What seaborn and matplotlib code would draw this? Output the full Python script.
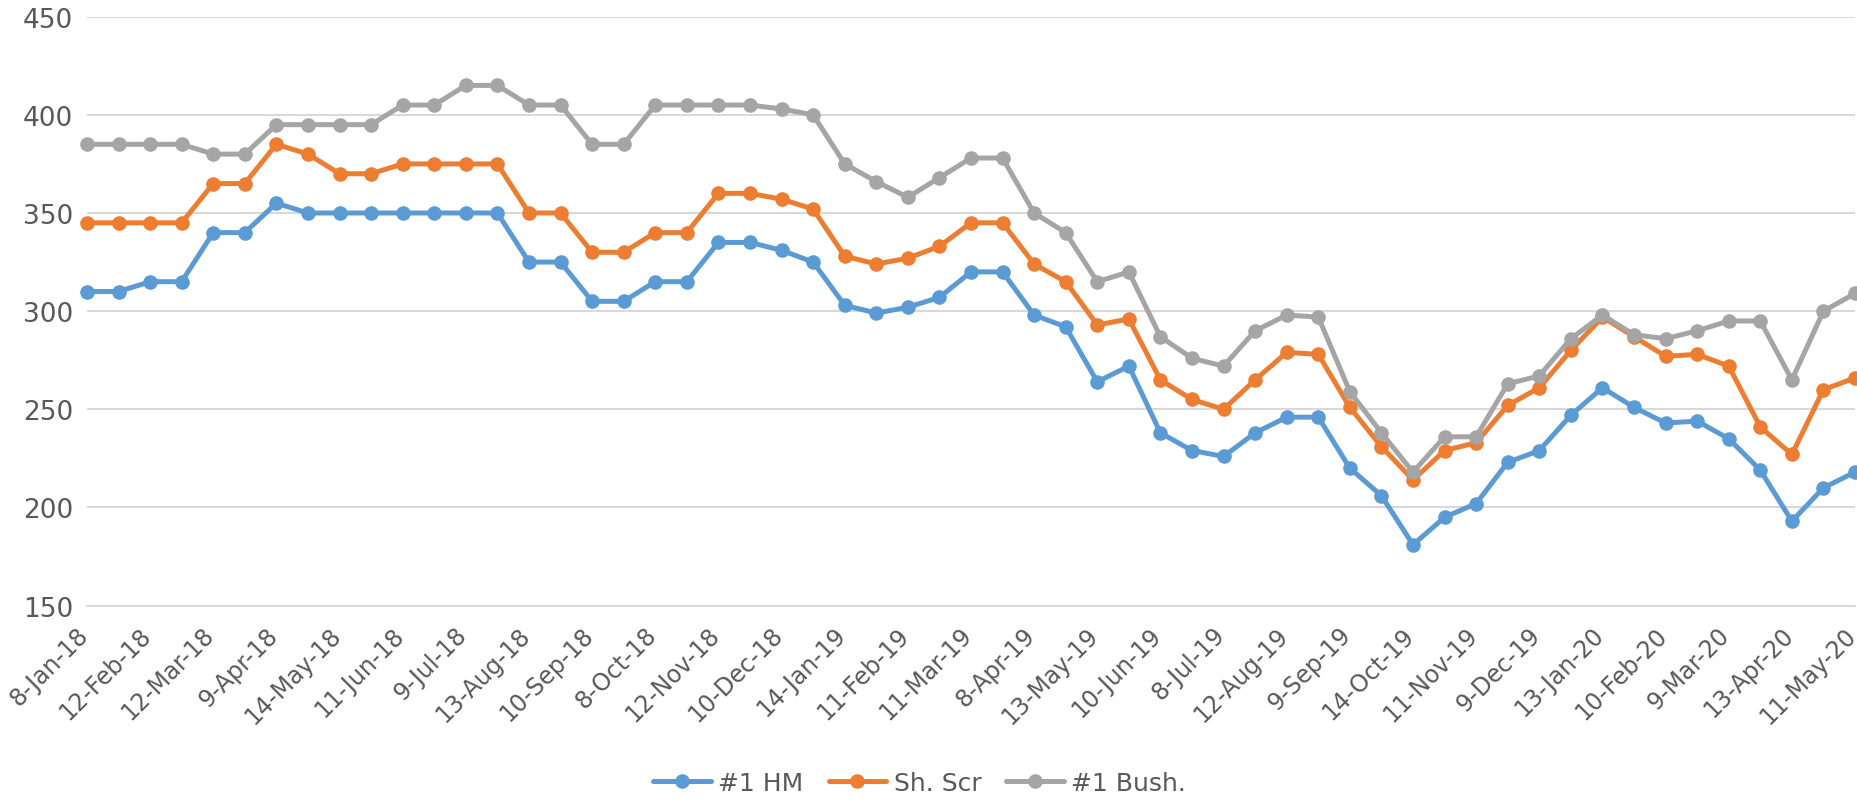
import matplotlib
matplotlib.use("Agg")
import matplotlib.pyplot as plt
import matplotlib.transforms as mtransforms
import numpy as np
import pandas as pd
import seaborn as sns

dates = ["8-Jan-18", "22-Jan-18", "12-Feb-18", "26-Feb-18", "12-Mar-18", "26-Mar-18",
         "9-Apr-18", "23-Apr-18", "14-May-18", "28-May-18", "11-Jun-18", "25-Jun-18",
         "9-Jul-18", "23-Jul-18", "13-Aug-18", "27-Aug-18", "10-Sep-18", "24-Sep-18",
         "8-Oct-18", "22-Oct-18", "12-Nov-18", "26-Nov-18", "10-Dec-18", "24-Dec-18",
         "14-Jan-19", "28-Jan-19", "11-Feb-19", "25-Feb-19", "11-Mar-19", "25-Mar-19",
         "8-Apr-19", "22-Apr-19", "13-May-19", "27-May-19", "10-Jun-19", "24-Jun-19",
         "8-Jul-19", "22-Jul-19", "12-Aug-19", "26-Aug-19", "9-Sep-19", "23-Sep-19",
         "14-Oct-19", "28-Oct-19", "11-Nov-19", "25-Nov-19", "9-Dec-19", "23-Dec-19",
         "13-Jan-20", "27-Jan-20", "10-Feb-20", "24-Feb-20", "9-Mar-20", "23-Mar-20",
         "13-Apr-20", "27-Apr-20", "11-May-20"]

hm = [310, 310, 315, 315, 340, 340, 355, 350, 350, 350,
      350, 350, 350, 350, 325, 325, 305, 305, 315, 315,
      335, 335, 331, 325, 303, 299, 302, 307, 320, 320,
      298, 292, 264, 272, 238, 229, 226, 238, 246, 246,
      220, 206, 181, 195, 202, 223, 229, 247, 261, 251,
      243, 244, 235, 219, 193, 210, 218]

scr = [345, 345, 345, 345, 365, 365, 385, 380, 370, 370,
       375, 375, 375, 375, 350, 350, 330, 330, 340, 340,
       360, 360, 357, 352, 328, 324, 327, 333, 345, 345,
       324, 315, 293, 296, 265, 255, 250, 265, 279, 278,
       251, 231, 214, 229, 233, 252, 261, 280, 297, 287,
       277, 278, 272, 241, 227, 260, 266]

bush = [385, 385, 385, 385, 380, 380, 395, 395, 395, 395,
        405, 405, 415, 415, 405, 405, 385, 385, 405, 405,
        405, 405, 403, 400, 375, 366, 358, 368, 378, 378,
        350, 340, 315, 320, 287, 276, 272, 290, 298, 297,
        259, 238, 218, 236, 236, 263, 267, 286, 298, 288,
        286, 290, 295, 295, 265, 300, 309]

series_names = ["#1 HM", "Sh. Scr", "#1 Bush."]
colors = ["#5B9BD5", "#ED7D31", "#A5A5A5"]
yticks = [150, 200, 250, 300, 350, 400, 450]

sns.set_style("white")
plt.rcParams["font.family"] = ["DejaVu Sans"]

pos = np.arange(len(dates))
df = pd.DataFrame({"pos": np.tile(pos, 3),
                   "value": hm + scr + bush,
                   "series": np.repeat(series_names, len(dates))})

fig = plt.figure(figsize=(18.58, 8.04), dpi=100)
ax = fig.add_axes([0.0468, 0.2455, 0.9516, 0.7325])

sns.lineplot(data=df, x="pos", y="value", hue="series", hue_order=series_names,
             palette=colors, marker="o", markersize=10.5, markeredgewidth=0,
             linewidth=3.6, ax=ax, legend=True)

text_c = "#595959"
grid_c = "#D9D9D9"
ax.set_xlim(0, len(dates) - 1)
ax.set_ylim(150, 450)
ax.set_yticks(yticks)
ax.set_yticklabels([str(v) for v in yticks], fontsize=19, color=text_c)
ax.set_xticks(pos)
ax.set_xticklabels([d if i % 2 == 0 else "" for i, d in enumerate(dates)],
                   rotation=45, ha="right", rotation_mode="anchor",
                   fontsize=17, color=text_c)
ax.tick_params(axis="x", length=8, width=1.5, color=grid_c, pad=4, direction="out")
ax.tick_params(axis="y", length=0, pad=10)
offset = mtransforms.ScaledTranslation(-11 / 100, 0, fig.dpi_scale_trans)
for lab in ax.get_xticklabels():
    lab.set_transform(lab.get_transform() + offset)
ax.yaxis.grid(True, color=grid_c, linewidth=1.5)
ax.set_axisbelow(True)
for s in ["top", "right", "left"]:
    ax.spines[s].set_visible(False)
ax.spines["bottom"].set_color(grid_c)
ax.spines["bottom"].set_linewidth(1.5)
ax.set_xlabel("")
ax.set_ylabel("")
for line in ax.lines:
    line.set_clip_on(False)

handles, labels = ax.get_legend_handles_labels()
ax.legend(handles, labels, loc="center", bbox_to_anchor=(0.495, 0.025),
          bbox_transform=fig.transFigure, ncol=3, frameon=False, fontsize=18,
          labelcolor=text_c, handlelength=2.3, columnspacing=1.0, handletextpad=0.3)

fig.savefig("out.png", dpi=100)
